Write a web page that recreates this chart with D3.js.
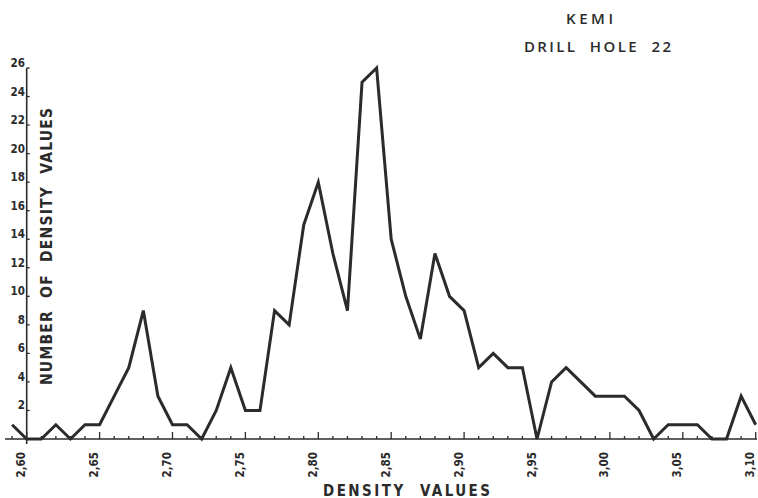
<!DOCTYPE html>
<html>
<head>
<meta charset="utf-8">
<script src="https://cdn.jsdelivr.net/npm/d3@7"></script>
<style>
  html, body { margin: 0; padding: 0; background: #fff; }
  svg { display: block; }
  text { font-family: "DejaVu Sans Condensed", "Liberation Sans Narrow", "DejaVu Sans", sans-serif; font-weight: bold; fill: #2b2b2b; white-space: pre; }
  text.title { font-weight: 600; font-family: "Open Sans", "DejaVu Sans", sans-serif; }
</style>
</head>
<body>
<svg id="chart" width="758" height="498"></svg>
<script>
// Density class (g/cm3) and the number of samples in each class
const densities = [2.59, 2.60, 2.61, 2.62, 2.63, 2.64, 2.65, 2.66, 2.67, 2.68, 2.69,
                   2.70, 2.71, 2.72, 2.73, 2.74, 2.75, 2.76, 2.77, 2.78, 2.79,
                   2.80, 2.81, 2.82, 2.83, 2.84, 2.85, 2.86, 2.87, 2.88, 2.89,
                   2.90, 2.91, 2.92, 2.93, 2.94, 2.95, 2.96, 2.97, 2.98, 2.99,
                   3.00, 3.01, 3.02, 3.03, 3.04, 3.05, 3.06, 3.07, 3.08, 3.09, 3.10];
const counts    = [1, 0, 0, 1, 0, 1, 1, 3, 5, 9, 3,
                   1, 1, 0, 2, 5, 2, 2, 9, 8, 15,
                   18, 13, 9, 25, 26, 14, 10, 7, 13, 10,
                   9, 5, 6, 5, 5, 0, 4, 5, 4, 3,
                   3, 3, 2, 0, 1, 1, 1, 0, 0, 3, 1];

const xMajorTicks = [2.60, 2.65, 2.70, 2.75, 2.80, 2.85, 2.90, 2.95, 3.00, 3.05, 3.10];
const xTickLabels = ["2,60", "2,65", "2,70", "2,75", "2,80", "2,85", "2,90", "2,95", "3,00", "3,05", "3,10"];
const yTicks = [2, 4, 6, 8, 10, 12, 14, 16, 18, 20, 22, 24, 26];

const titleLines = ["KEMI", "DRILL  HOLE  22"];
const xTitle = "DENSITY  VALUES";
const yTitle = "NUMBER  OF  DENSITY  VALUES";

const svg = d3.select("#chart");
const ink = "#2b2b2b";

const x = d3.scaleLinear().domain([2.60, 3.10]).range([26.7, 755.7]);
const y = d3.scaleLinear().domain([0, 26]).range([439, 68]);

// Baseline with short ticks every 0.01 and longer ticks every 0.05
svg.append("line")
  .attr("x1", 5).attr("x2", 757)
  .attr("y1", y(0)).attr("y2", y(0))
  .attr("stroke", ink).attr("stroke-width", 1.6);

const minor = d3.range(259, 311).map(d => d / 100);
svg.append("g").selectAll("line").data(minor).join("line")
  .attr("x1", d => x(d)).attr("x2", d => x(d))
  .attr("y1", y(0)).attr("y2", d => y(0) - (Math.round(d * 100) % 5 === 0 ? 7 : 3))
  .attr("stroke", ink).attr("stroke-width", 1.3);

svg.append("g").selectAll("text").data(xMajorTicks).join("text")
  .attr("transform", d => `translate(${x(d) - 1.5},452) rotate(-90)`)
  .attr("text-anchor", "end")
  .attr("font-size", 11.5)
  .text((d, i) => xTickLabels[i]);

// Vertical count axis
svg.append("line")
  .attr("x1", x(2.60)).attr("x2", x(2.60))
  .attr("y1", y(26)).attr("y2", y(0) + 5)
  .attr("stroke", ink).attr("stroke-width", 1.6);

svg.append("g").selectAll("line").data(yTicks).join("line")
  .attr("x1", x(2.60)).attr("x2", x(2.60) + 3)
  .attr("y1", d => y(d)).attr("y2", d => y(d))
  .attr("stroke", ink).attr("stroke-width", 1.3);

svg.append("g").selectAll("text").data(yTicks).join("text")
  .attr("x", 25)
  .attr("y", d => y(d) - 1)
  .attr("text-anchor", "end")
  .attr("font-size", 11.5)
  .text(d => d);

// Frequency polygon
const line = d3.line()
  .x((d, i) => x(densities[i]))
  .y(d => y(d))
  .curve(d3.curveLinear);

svg.append("path")
  .datum(counts)
  .attr("d", line)
  .attr("fill", "none")
  .attr("stroke", ink)
  .attr("stroke-width", 3)
  .attr("stroke-linejoin", "miter");

// Titles
svg.append("text")
  .attr("class", "title")
  .attr("x", 566).attr("y", 24)
  .attr("textLength", 47).attr("lengthAdjust", "spacing")
  .attr("font-size", 15)
  .text(titleLines[0]);

svg.append("text")
  .attr("class", "title")
  .attr("x", 524).attr("y", 52)
  .attr("textLength", 147).attr("lengthAdjust", "spacing")
  .attr("font-size", 15)
  .text(titleLines[1]);

svg.append("text")
  .attr("x", 323).attr("y", 495.5)
  .attr("textLength", 167).attr("lengthAdjust", "spacing")
  .attr("font-size", 15)
  .text(xTitle);

svg.append("text")
  .attr("transform", "translate(52,385) rotate(-90)")
  .attr("textLength", 277).attr("lengthAdjust", "spacing")
  .attr("font-size", 15.5)
  .text(yTitle);
</script>
</body>
</html>
